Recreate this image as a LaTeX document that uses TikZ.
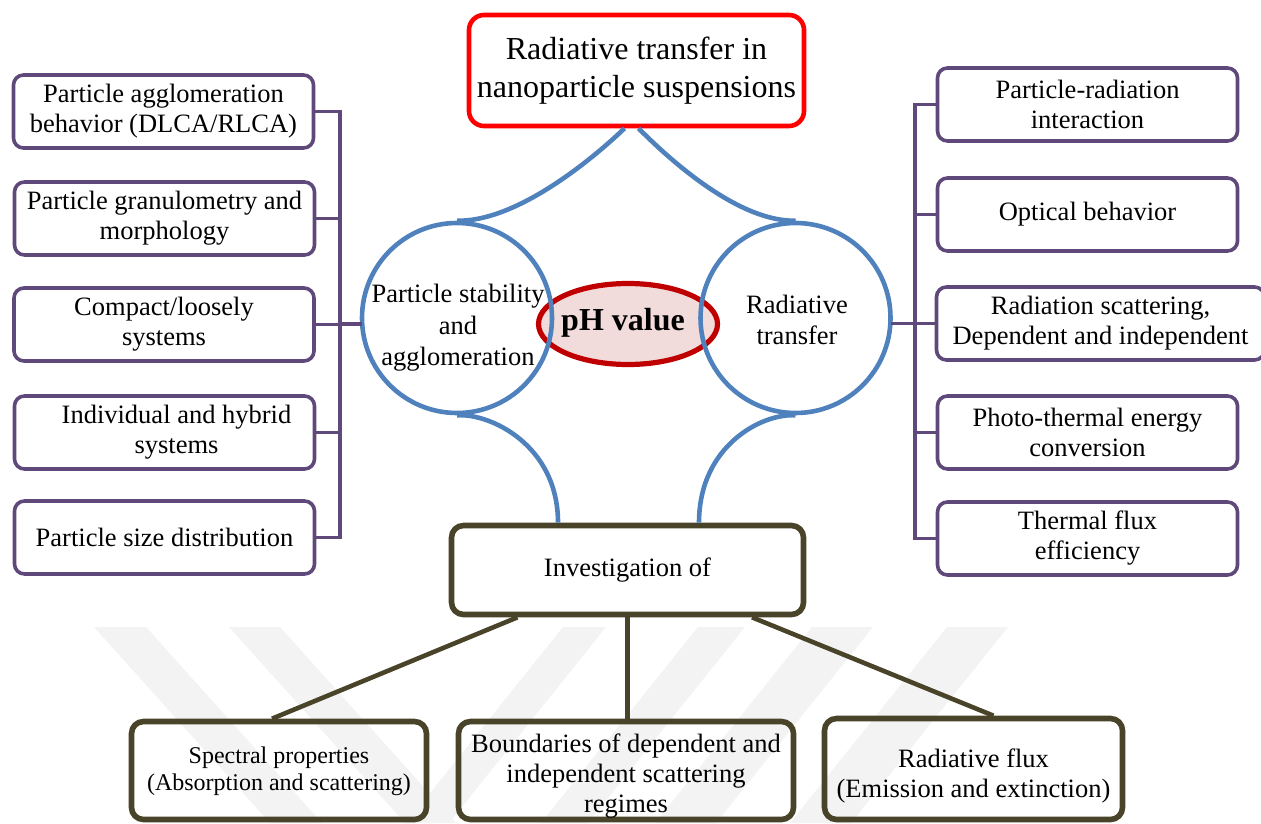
\documentclass[tikz,border=0pt]{standalone}
\usepackage{fontspec}
\setmainfont{Liberation Serif}
\usetikzlibrary{shapes.geometric,calc}
\definecolor{purp}{HTML}{5F497A}
\definecolor{cblue}{HTML}{4F81BD}
\definecolor{olive}{HTML}{494429}
\definecolor{dred}{HTML}{C00000}
\definecolor{pinkfill}{HTML}{F2DCDB}
\definecolor{wm}{HTML}{F3F3F3}
\begin{document}
\begin{tikzpicture}[x=0.5pt,y=-0.5pt,
  sidebox/.style={draw=purp, line width=1.8pt, rounded corners=5pt, minimum width=150pt,
    minimum height=36.5pt, align=center, inner sep=0pt, font=\fontsize{13.25}{15}\selectfont},
  obox/.style={draw=olive, line width=2.8pt, rounded corners=6pt, inner sep=0pt},
  otext/.style={align=center, inner sep=0pt, font=\fontsize{13.25}{15}\selectfont},
  circ/.style={circle, draw=cblue, line width=2.3pt, minimum size=95pt, inner sep=0pt},
  ctext/.style={align=center, inner sep=0pt, font=\fontsize{13.25}{15.75}\selectfont},
  pline/.style={draw=purp, line width=1.8pt, line cap=rect},
  bline/.style={draw=cblue, line width=2.3pt},
  oline/.style={draw=olive, line width=2.3pt}]
\useasboundingbox (0,0) rectangle (1261,823);
% faint watermark bands
\fill[wm] (94,627) -- (146,627) -- (322,823) -- (270,823) -- cycle;
\fill[wm] (229,627) -- (280,627) -- (456,823) -- (405,823) -- cycle;
\fill[wm] (563,627) -- (606,627) -- (449,823) -- (406,823) -- cycle;
\fill[wm] (698,627) -- (745,627) -- (588,823) -- (541,823) -- cycle;
\fill[wm] (812,627) -- (873,627) -- (716,823) -- (655,823) -- cycle;
\fill[wm] (947,627) -- (1008,627) -- (851,823) -- (790,823) -- cycle;

% title
\node[draw=red, line width=2.3pt, rounded corners=7.5pt, minimum width=167.5pt, minimum height=55.5pt,
  align=center, inner sep=0pt, font=\fontsize{16}{19}\selectfont] (title) at (636.5,70.5)
  {Radiative transfer in\\nanoparticle suspensions};

% left boxes
\node[sidebox] (l1) at (163.5,111.5) {Particle agglomeration\\behavior (DLCA/RLCA)};
\node[sidebox] (l2) at (164.5,218.5) {Particle granulometry and\\morphology};
\node[sidebox] (l3) at (164,324.5) {Compact/loosely\\systems};
\node[sidebox] (l4) at (164.5,432.5) {\hspace{12pt}Individual and hybrid\\\hspace{12pt}systems};
\node[sidebox] (l5) at (164.5,537.5) {Particle size distribution};

% right boxes
\node[sidebox] (r1) at (1087.5,104.5) {Particle-radiation\\interaction};
\node[sidebox] (r2) at (1087.5,214.5) {Optical behavior};
\node[sidebox, minimum width=164pt] (r3) at (1100.5,323.5) {Radiation scattering,\\Dependent and independent};
\node[sidebox] (r4) at (1087.5,432.5) {Photo-thermal energy\\conversion};
\node[sidebox] (r5) at (1087.5,538.5) {Thermal flux\\efficiency};

% centre
\node[ellipse, draw=dred, fill=pinkfill, line width=2.6pt, minimum width=89.5pt, minimum height=40.5pt,
  inner sep=0pt] (ph) at (628,324) {};
\node[circ] (cL) at (457,318) {};
\node[circ] (cR) at (795.5,318) {};
\node[inner sep=0pt, font=\bfseries\fontsize{16}{19}\selectfont] (pht) at (623,323) {pH value};
\node[ctext] (tL) at (458,328) {Particle stability\\and\\agglomeration};
\node[ctext] (tR) at (797,320) {Radiative\\transfer};

% investigation and bottom boxes
\node[obox, minimum width=176pt, minimum height=44.5pt] (inv) at (627.5,570) {};
\node[otext] (invt) at (627.5,570) {Investigation of};
\node[obox, minimum width=147.5pt, minimum height=49pt] (b1) at (279,770.5) {};
\node[otext, font=\fontsize{12}{13.5}\selectfont] (b1t) at (279,771) {Spectral properties\\(Absorption and scattering)};
\node[obox, minimum width=167.5pt, minimum height=49pt] (b2) at (626,770.5) {};
\node[otext] (b2t) at (626,776) {Boundaries of dependent and\\independent scattering\\regimes};
\node[obox, minimum width=149pt, minimum height=50.5pt] (b3) at (973.5,769) {};
\node[otext] (b3t) at (973.5,776) {Radiative flux\\(Emission and extinction)};

% purple buses
\coordinate (busL) at (340,324);
\foreach \n in {l1,l2,l3,l4,l5} \draw[pline] (\n.east) -- (\n.east -| busL);
\draw[pline] (l1.east -| busL) -- (l5.east -| busL);
\draw[pline] (busL) -- (busL -| cL.west);
\coordinate (busR) at (915,323.5);
\foreach \n in {r1,r2,r3,r4,r5} \draw[pline] (\n.west) -- (\n.west -| busR);
\draw[pline] (r1.west -| busR) -- (r5.west -| busR);
\draw[pline] (busR) -- (busR -| cR.east);

% blue curves
\draw[bline] ($(title.south)+(-12,0)$) .. controls (600,152) and (520,222) .. (cL.north);
\draw[bline] ($(title.south)+(2,0)$) .. controls (662,152) and (735,222) .. (cR.north);
\draw[bline] (cL.south) .. controls (490,413) and (558,445) .. ($(inv.north)+(-69.5,0)$);
\draw[bline] (cR.south) .. controls (763,413) and (699,445) .. ($(inv.north)+(71.5,0)$);

% olive connectors
\draw[oline] ($(inv.south)+(-110,0)$) -- ($(b1.north)+(-7,0)$);
\draw[oline] (inv.south) -- (inv.south |- b2.north);
\draw[oline] ($(inv.south)+(124.5,0)$) -- ($(b3.north)+(20,0)$);
\end{tikzpicture}
\end{document}
